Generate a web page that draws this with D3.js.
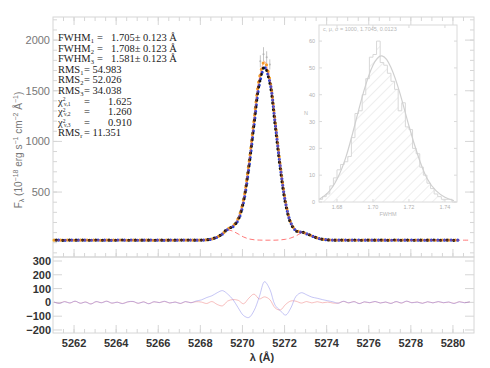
<html><head>
<script src="https://d3js.org/d3.v7.min.js"></script>
<style>
  body { margin:0; background:#fff; }
  text { font-family: "Liberation Sans", Arial, sans-serif; }
  text.ann { font-family: "Liberation Serif", "DejaVu Serif", serif; }
</style>
</head>
<body>
<script>

// ---- data ----
// wavelength grid: start + step*i, 80 samples
var lamStart = 5261.05, lamStep = 0.25;

var fluxBlack = [25,27,23,26,25,27,24,25,26,24,26,23,25,27,24,26,24,26,25,24,27,23,26,25,26,24,28,24,26,29,
  38,57,89,138,161,230,409,746,1175,1575,1738,1580,1170,730,385,191,116,108,90,68,47,34,28,
  26,25,27,24,26,25,24,27,25,26,24,25,27,24,26,25,24,26,25,27,24,25,26,24,25];
var fluxBlue = [25,26,24,25,26,25,25,24,26,25,25,24,26,25,25,26,24,25,26,25,25,24,26,25,25,26,26,25,26,28,
  36,55,86,132,158,225,398,730,1160,1560,1730,1590,1185,745,392,195,118,104,88,66,46,34,28,
  26,25,26,25,25,26,25,25,26,25,25,24,26,25,25,26,25,25,24,26,25,25,26,25,25];
var fluxOrange = [25,25,26,25,24,25,26,25,25,24,26,25,25,26,24,25,25,26,25,24,26,25,25,24,26,25,25,26,25,28,
  37,56,88,136,166,240,425,770,1210,1620,1790,1610,1205,760,400,198,120,106,89,67,47,34,28,
  26,25,25,26,24,25,26,25,25,24,26,25,25,26,25,24,25,26,25,25,24,26,25,25,25];
var fluxComp = [25,25,25,25,25,25,25,25,25,25,25,25,25,25,25,25,25,25,25,29,
  25,25,25,25,25,25,25,25,25,29,38,57,86,125,113,86,57,38,29,26,25,25,25,28,34,47,68,95,87,68,47,34,28,
  25,25,25,25,25,25,25,25,25,25,25,25,25,25,25,25,25,25,25,25,25,25,25,25,25,25,25];

// error points near the line top
var errLam = [5270.85, 5271.0, 5271.15, 5271.3];
var errVal = [1790, 1860, 1830, 1760];
var errBar = [60, 70, 60, 50];

// residuals, same grid
var resBlue = [3,-8,5,-4,9,-6,2,-12,6,-3,8,-5,1,-9,4,7,-6,3,-10,5,-2,8,-4,2,-7,6,-3,
  10,18,35,48,70,85,60,20,-40,-95,-110,-60,40,150,95,-20,-60,-92,-40,45,70,55,38,30,20,12,4,
  -6,8,-3,5,-9,4,-2,7,-5,3,-8,6,-4,9,-3,2,-7,5,-4,6,-2,3,-8,4,-3,5];
var resRed = [2,-7,6,-5,8,-6,3,-11,5,-2,9,-6,2,-8,3,6,-7,4,-9,4,-1,7,-5,3,-8,5,-2,
  5,2,-8,6,-15,-25,10,20,15,-10,30,60,25,40,20,-40,-55,-15,10,8,-5,6,-4,5,-3,2,-5,
  -5,7,-4,6,-8,3,-3,6,-4,2,-7,5,-5,8,-2,3,-6,4,-3,5,-3,2,-7,5,-2,4];

// histogram of FWHM (inset)
var histStart = 1.670, histStep = 0.002;
var histCounts = [1,2,3,6,9,12,14,15,17,24,33,34,40,46,54,55,60,52,51,48,45,42,34,37,28,27,20,18,13,10,7,5,3,2,1,1,1,0];
var fitX = [1.670,1.675,1.680,1.685,1.690,1.695,1.700,1.705,1.710,1.715,1.720,1.725,1.730,1.735,1.740,1.745];
var fitY = [1,3,8,16,29,42,52,56,51,41,28,17,8,4,1.5,0.5];

var mainTicks = [500, 1000, 1500, 2000];
var resTicks = [300, 200, 100, 0, -100, -200];
var lamTicks = [5262, 5264, 5266, 5268, 5270, 5272, 5274, 5276, 5278, 5280];
var histXTicks = [1.68, 1.70, 1.72, 1.74];
var histYTicks = [0, 10, 20, 30, 40, 50, 60];

// ---- layout ----
var width = 490, height = 368;
var svg = d3.select("body").append("svg").attr("width", width).attr("height", height);
var frameCol = "#d6d6d6";

var x = d3.scaleLinear().domain([5261, 5281]).range([53, 474]);
var yMain = d3.scaleLinear().domain([-141, 2228]).range([257, 17]);
var yRes = d3.scaleLinear().domain([-222, 329]).range([333, 257]);

function lam(i) { return lamStart + lamStep * i; }

// frames
svg.append("rect").attr("x", 53).attr("y", 17).attr("width", 421).attr("height", 240)
  .attr("fill", "none").attr("stroke", frameCol);
svg.append("rect").attr("x", 53).attr("y", 257).attr("width", 421).attr("height", 76)
  .attr("fill", "none").attr("stroke", frameCol);

// tick helper: inward ticks on a side
function ticks(vals, scale, side, len, y0) {
  vals.forEach(function(v) {
    var p = scale(v);
    var l = svg.append("line").attr("stroke", frameCol);
    if (side == "left") l.attr("x1", 53).attr("x2", 53 + len).attr("y1", p).attr("y2", p);
    if (side == "right") l.attr("x1", 474).attr("x2", 474 - len).attr("y1", p).attr("y2", p);
    if (side == "top") l.attr("x1", p).attr("x2", p).attr("y1", y0).attr("y2", y0 + len);
    if (side == "bottom") l.attr("x1", p).attr("x2", p).attr("y1", y0).attr("y2", y0 - len);
  });
}

var minorMain = d3.range(-100, 2201, 100);
ticks(minorMain, yMain, "left", 4); ticks(minorMain, yMain, "right", 4);
ticks(mainTicks, yMain, "left", 9); ticks(mainTicks, yMain, "right", 9);
ticks(resTicks, yRes, "left", 9); ticks(resTicks, yRes, "right", 9);
var minorLam = d3.range(5261.5, 5281, 0.5);
ticks(minorLam, x, "top", 4, 17); ticks(lamTicks, x, "top", 8, 17);
ticks(minorLam, x, "bottom", 4, 257); ticks(lamTicks, x, "bottom", 8, 257);
ticks(minorLam, x, "bottom", 4, 333); ticks(lamTicks, x, "bottom", 8, 333);

// tick labels
svg.selectAll(".ym").data(mainTicks).enter().append("text")
  .attr("x", 50).attr("y", function(d) { return yMain(d) + 4; })
  .attr("text-anchor", "end").attr("font-size", 11).attr("fill", "#777").text(function(d) { return d; });
svg.selectAll(".yr").data(resTicks).enter().append("text")
  .attr("x", 51).attr("y", function(d) { return yRes(d) + 4; })
  .attr("text-anchor", "end").attr("font-size", 11).attr("font-weight", "bold").attr("fill", "#333")
  .text(function(d) { return d < 0 ? "\u2212" + (-d) : d; });
svg.selectAll(".xl").data(lamTicks).enter().append("text")
  .attr("x", function(d) { return x(d); }).attr("y", 347)
  .attr("text-anchor", "middle").attr("font-size", 11).attr("font-weight", "bold").attr("fill", "#333")
  .text(function(d) { return d; });

// axis titles
var xt = svg.append("text").attr("x", 262).attr("y", 361).attr("text-anchor", "middle")
  .attr("font-size", 11).attr("font-weight", "bold").attr("fill", "#333");
xt.append("tspan").text("\u03bb (\u00c5)");

var yt = svg.append("text").attr("transform", "translate(22,150) rotate(-90)")
  .attr("text-anchor", "middle").attr("font-size", 10).attr("fill", "#777");
yt.append("tspan").text("F");
yt.append("tspan").attr("font-size", 7).attr("dy", 2).text("\u03bb");
yt.append("tspan").attr("dy", -2).text(" (10");
yt.append("tspan").attr("font-size", 7).attr("dy", -4).text("\u221218");
yt.append("tspan").attr("dy", 4).text(" erg s");
yt.append("tspan").attr("font-size", 7).attr("dy", -4).text("\u22121");
yt.append("tspan").attr("dy", 4).text(" cm");
yt.append("tspan").attr("font-size", 7).attr("dy", -4).text("\u22122");
yt.append("tspan").attr("dy", 4).text(" \u00c5");
yt.append("tspan").attr("font-size", 7).attr("dy", -4).text("\u22121");
yt.append("tspan").attr("dy", 4).text(")");

// ---- inset histogram ----
var hx = d3.scaleLinear().domain([1.67, 1.7467]).range([319, 457]);
var hy = d3.scaleLinear().domain([0, 66]).range([202, 25]);

var defs = svg.append("defs");
var pat = defs.append("pattern").attr("id", "hatch").attr("patternUnits", "userSpaceOnUse")
  .attr("width", 7).attr("height", 7).attr("patternTransform", "rotate(45)");
pat.append("line").attr("x1", 0).attr("y1", 0).attr("x2", 0).attr("y2", 7)
  .attr("stroke", "#d4d4d4").attr("stroke-width", 0.8);

var steps = [];
histCounts.forEach(function(c, i) {
  steps.push([histStart + histStep * i, c]);
  steps.push([histStart + histStep * (i + 1), c]);
});
var areaH = d3.area().x(function(d) { return hx(d[0]); }).y0(hy(0)).y1(function(d) { return hy(d[1]); });
svg.append("path").datum(steps).attr("d", areaH).attr("fill", "url(#hatch)");
var lineH = d3.line().x(function(d) { return hx(d[0]); }).y(function(d) { return hy(d[1]); });
svg.append("path").datum(steps).attr("d", lineH).attr("fill", "none").attr("stroke", "#d8d8d8").attr("stroke-width", 1);
svg.append("path").datum(fitX.map(function(v, i) { return [v, fitY[i]]; }))
  .attr("d", lineH.curve(d3.curveBasis)).attr("fill", "none").attr("stroke", "#d0d0d0").attr("stroke-width", 1.2);

svg.append("rect").attr("x", 319).attr("y", 25).attr("width", 138).attr("height", 177)
  .attr("fill", "none").attr("stroke", "#dadada");
histYTicks.forEach(function(v) {
  svg.append("line").attr("x1", 319).attr("x2", 322).attr("y1", hy(v)).attr("y2", hy(v)).attr("stroke", "#dadada");
  svg.append("line").attr("x1", 457).attr("x2", 454).attr("y1", hy(v)).attr("y2", hy(v)).attr("stroke", "#dadada");
  svg.append("text").attr("x", 315).attr("y", hy(v) + 2).attr("text-anchor", "end")
    .attr("font-size", 5.5).attr("fill", "#b0b0b0").text(v);
});
histXTicks.forEach(function(v) {
  svg.append("line").attr("x1", hx(v)).attr("x2", hx(v)).attr("y1", 202).attr("y2", 199).attr("stroke", "#dadada");
  svg.append("line").attr("x1", hx(v)).attr("x2", hx(v)).attr("y1", 25).attr("y2", 28).attr("stroke", "#dadada");
  svg.append("text").attr("x", hx(v)).attr("y", 209).attr("text-anchor", "middle")
    .attr("font-size", 5.5).attr("fill", "#b0b0b0").text(v.toFixed(2));
});
svg.append("text").attr("x", 388).attr("y", 216).attr("text-anchor", "middle")
  .attr("font-size", 5.5).attr("fill", "#b8b8b8").text("FWHM");
svg.append("text").attr("x", 306).attr("y", 115).attr("text-anchor", "middle")
  .attr("font-size", 5.5).attr("fill", "#b8b8b8").text("N");
svg.append("text").attr("x", 323).attr("y", 31).attr("font-size", 5.5).attr("fill", "#b8b8b8")
  .text("c, \u03bc, \u03c3 =   1000,   1.7045,   0.0123");

// ---- spectra ----
function lineOf(arr, ys) {
  return d3.line().curve(d3.curveCatmullRom)
    .x(function(d, i) { return x(lam(i)); }).y(function(d) { return ys(d); })(arr);
}

// gray error bars near peak
errLam.forEach(function(l, i) {
  svg.append("line").attr("x1", x(l)).attr("x2", x(l))
    .attr("y1", yMain(errVal[i] - errBar[i])).attr("y2", yMain(errVal[i] + errBar[i]))
    .attr("stroke", "#c4c4c4").attr("stroke-width", 1);
  svg.append("circle").attr("cx", x(l)).attr("cy", yMain(errVal[i])).attr("r", 1).attr("fill", "#b4b4b4");
});

svg.append("path").attr("d", lineOf(fluxComp, yMain)).attr("fill", "none")
  .attr("stroke", "#ff6060").attr("stroke-width", 1).attr("stroke-dasharray", "5,3").attr("opacity", 0.85);

var dotted = [
  { arr: fluxOrange, col: "#f5a623", off: 0 },
  { arr: fluxBlue, col: "#2a3fd6", off: 2.2 },
  { arr: fluxBlack, col: "#111", off: 4.4 }
];
dotted.forEach(function(s) {
  svg.append("path").attr("d", lineOf(s.arr, yMain)).attr("fill", "none")
    .attr("stroke", s.col).attr("stroke-width", 3.2).attr("stroke-linecap", "round")
    .attr("stroke-dasharray", "0,6.6").attr("stroke-dashoffset", s.off);
});
// thin red line under peak (model)
svg.append("path").attr("d", lineOf(fluxOrange, yMain)).attr("fill", "none")
  .attr("stroke", "#ff6a4a").attr("stroke-width", 0.8).attr("opacity", 0.6);

// residuals
svg.append("path").attr("d", lineOf(resRed, yRes)).attr("fill", "none")
  .attr("stroke", "#f08080").attr("stroke-width", 1).attr("opacity", 0.5);
svg.append("path").attr("d", lineOf(resBlue, yRes)).attr("fill", "none")
  .attr("stroke", "#8080e8").attr("stroke-width", 1).attr("opacity", 0.45);

// ---- fit annotations ----
var ann = svg.append("g").attr("fill", "#222");
function annLine(y, parts) {
  var t = ann.append("text").attr("class", "ann").attr("y", y).attr("font-size", 10.5);
  parts.forEach(function(p) {
    var s = t.append("tspan").text(p.t);
    if (p.x !== undefined) s.attr("x", p.x);
    if (p.dy) s.attr("dy", p.dy);
    if (p.fs) s.attr("font-size", p.fs);
  });
}
var fw = [["1", "1.705"], ["2", "1.708"], ["3", "1.581"]];
fw.forEach(function(f, i) {
  annLine(41 + 10.6 * i, [{ t: "FWHM", x: 58 }, { t: f[0], fs: 6.5, dy: 2 }, { t: "=", x: 97, dy: -2 },
    { t: f[1] + "\u00b1 0.123 \u00c5", x: 111 }]);
});
var rms = [["1", "54.983"], ["2", "52.026"], ["3", "34.038"]];
rms.forEach(function(r, i) {
  annLine(72.8 + 10.6 * i, [{ t: "RMS", x: 58 }, { t: r[0], fs: 6.5, dy: 2 }, { t: "= " + r[1], x: 84, dy: -2 }]);
});
var chi = [["1", "1.625"], ["2", "1.260"], ["3", "0.910"]];
chi.forEach(function(c, i) {
  annLine(104.6 + 10.6 * i, [{ t: "\u03c7", x: 58 }, { t: "2", fs: 5.5, dy: -3.2 }, { t: "\u03bd," + c[0], fs: 5.5, x: 64, dy: 4.2 },
    { t: "=", x: 84, dy: -1 }, { t: c[1], x: 108 }]);
});
annLine(136.4, [{ t: "RMS", x: 58 }, { t: "r", fs: 6.5, dy: 2 }, { t: "= 11.351", x: 84, dy: -2 }]);

</script>
</body>
</html>
